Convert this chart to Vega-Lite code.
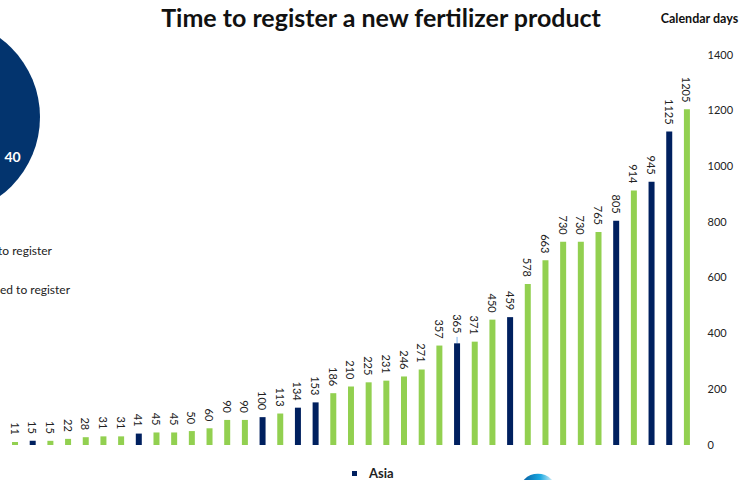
{
"$schema":"https://vega.github.io/schema/vega-lite/v6.json",
"width":700,"height":390,
"autosize":{"type":"none"},
"padding":{"top":55,"left":0,"right":41,"bottom":35},
"background":"white",
"view":{"stroke":null},
"datasets":{
"bars":[
{"rank":1,"days":11,"region":"Other"},{"rank":2,"days":15,"region":"Asia"},{"rank":3,"days":15,"region":"Other"},{"rank":4,"days":22,"region":"Other"},{"rank":5,"days":28,"region":"Other"},{"rank":6,"days":31,"region":"Other"},{"rank":7,"days":31,"region":"Other"},{"rank":8,"days":41,"region":"Asia"},{"rank":9,"days":45,"region":"Other"},{"rank":10,"days":45,"region":"Other"},{"rank":11,"days":50,"region":"Other"},{"rank":12,"days":60,"region":"Other"},{"rank":13,"days":90,"region":"Other"},{"rank":14,"days":90,"region":"Other"},{"rank":15,"days":100,"region":"Asia"},{"rank":16,"days":113,"region":"Other"},{"rank":17,"days":134,"region":"Asia"},{"rank":18,"days":153,"region":"Asia"},{"rank":19,"days":186,"region":"Other"},{"rank":20,"days":210,"region":"Other"},{"rank":21,"days":225,"region":"Other"},{"rank":22,"days":231,"region":"Other"},{"rank":23,"days":246,"region":"Other"},{"rank":24,"days":271,"region":"Other"},{"rank":25,"days":357,"region":"Other"},{"rank":26,"days":365,"region":"Asia"},{"rank":27,"days":371,"region":"Other"},{"rank":28,"days":450,"region":"Other"},{"rank":29,"days":459,"region":"Asia"},{"rank":30,"days":578,"region":"Other"},{"rank":31,"days":663,"region":"Other"},{"rank":32,"days":730,"region":"Other"},{"rank":33,"days":730,"region":"Other"},{"rank":34,"days":765,"region":"Other"},{"rank":35,"days":805,"region":"Asia"},{"rank":36,"days":914,"region":"Other"},{"rank":37,"days":945,"region":"Asia"},{"rank":38,"days":1125,"region":"Asia"},{"rank":39,"days":1205,"region":"Other"}],
"pie":[{"rank":-3.13,"days":1177,"share":40}],
"pielabel":[{"rank":0.86,"days":1030,"label":"40"}],
"notes":[{"rank":3.09,"days":695,"label":"to register"},{"rank":4.11,"days":555,"label":"ed to register"}],
"unit":[{"rank":39.71,"days":1530,"label":"Calendar days"}],
"heading":[{"rank":21.7,"days":1530,"label":"Time to register a new fertilizer product"}],
"leader":[{"rank":26,"days":365,"end":388}],
"logo":[{"rank":30.57,"days":-171}]
},
"encoding":{
 "x":{"field":"rank","type":"quantitative","scale":{"domain":[0.15,39.74],"nice":false,"zero":false,"padding":0},"axis":null},
 "y":{"field":"days","type":"quantitative","scale":{"domain":[0,1400],"nice":false},
  "axis":{"orient":"right","values":[0,200,400,600,800,1000,1200,1400],"format":"d","title":null,"grid":false,"domain":false,"ticks":false,"labelPadding":7,"labelFont":"Lato","labelFontSize":11,"labelColor":"#222222"}}
},
"layer":[
{"data":{"name":"pie"},"mark":{"type":"arc","outerRadius":98,"color":"#03346E"},
 "encoding":{"theta":{"field":"share","type":"quantitative"}}},
{"data":{"name":"pielabel"},"mark":{"type":"text","font":"Lato","fontSize":14,"fontWeight":"bold","color":"white"},
 "encoding":{"text":{"field":"label"}}},
{"data":{"name":"notes"},"mark":{"type":"text","font":"Lato","fontSize":12,"align":"right","color":"#222222"},
 "encoding":{"text":{"field":"label"}}},
{"data":{"name":"unit"},"mark":{"type":"text","font":"Lato","fontSize":12.5,"fontWeight":"bold","color":"#111111"},
 "encoding":{"text":{"field":"label"}}},
{"data":{"name":"heading"},"mark":{"type":"text","font":"Lato","fontSize":25,"fontWeight":"bold","color":"#111111"},
 "encoding":{"text":{"field":"label"}}},
{"data":{"name":"logo"},"mark":{"type":"point","filled":true,"size":1444,"opacity":1,"color":{"x1":0,"y1":0,"x2":1,"y2":0,"gradient":"linear","stops":[{"offset":0.2,"color":"#0B6FB0"},{"offset":0.55,"color":"#19A7E0"},{"offset":0.85,"color":"#BDE6F5"}]}}},
{"data":{"name":"leader"},"mark":{"type":"rule","color":"#7FB5F0","strokeWidth":1},
 "encoding":{"y2":{"field":"end"}}},
{"data":{"name":"bars"},"mark":{"type":"bar","width":6},
 "encoding":{
  "color":{"field":"region","type":"nominal","scale":{"domain":["Asia","Other"],"range":["#00205F","#92D050"]},
   "legend":{"title":null,"orient":"none","legendX":348,"legendY":412,"symbolType":"square","symbolSize":25,"labelFont":"Lato","labelFontSize":13,"labelFontWeight":"bold","labelColor":"#222222","labelOffset":8,"rowPadding":6}}}},
{"data":{"name":"bars"},"transform":[{"filter":"datum.days !== 365"}],"mark":{"type":"text","font":"Lato","fontSize":11,"angle":90,"align":"right","baseline":"middle","yOffset":-7,"xOffset":-1.5,"color":"#222222"},
 "encoding":{"text":{"field":"days","type":"quantitative"}}},
{"data":{"name":"bars"},"transform":[{"filter":"datum.days === 365"}],"mark":{"type":"text","font":"Lato","fontSize":11,"angle":90,"align":"right","baseline":"middle","yOffset":-10,"xOffset":-1.5,"color":"#222222"},
 "encoding":{"text":{"field":"days","type":"quantitative"}}}
]
}
